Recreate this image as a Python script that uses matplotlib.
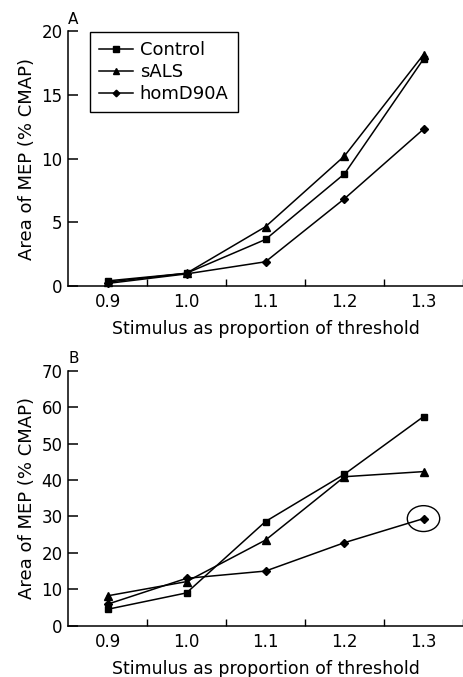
import matplotlib
matplotlib.use("Agg")
import matplotlib.pyplot as plt
from matplotlib.patches import Ellipse

x = [0.9, 1.0, 1.1, 1.2, 1.3]
x_ticks = [0.9, 1.0, 1.1, 1.2, 1.3]
x_minor = [0.95, 1.05, 1.15, 1.25, 1.35]

# panel A
a_control = [0.4, 1.0, 3.65, 8.8, 17.8]
a_sals = [0.3, 1.0, 4.65, 10.2, 18.15]
a_hom = [0.2, 0.95, 1.9, 6.85, 12.3]

# panel B
b_control = [4.5, 9.0, 28.6, 41.6, 57.4]
b_sals = [8.2, 12.1, 23.5, 40.9, 42.3]
b_hom = [5.9, 13.0, 15.0, 22.8, 29.4]

plt.rcParams["font.family"] = "DejaVu Sans"

W, H = 463, 677
fig = plt.figure(figsize=(W / 100, H / 100), dpi=100)


def make_ax(top_px, bottom_px):
    ax = fig.add_axes([68 / W, 1 - bottom_px / H, (W - 68) / W, (bottom_px - top_px) / H])
    for s in ["top", "right"]:
        ax.spines[s].set_visible(False)
    for s in ["left", "bottom"]:
        ax.spines[s].set_linewidth(1.1)
    ax.set_xlim(0.85, 1.35)
    ax.set_xticks(x_ticks)
    ax.set_xticks(x_minor, minor=True)
    ax.tick_params(axis="x", which="major", length=0, labelsize=12, pad=5)
    ax.tick_params(axis="x", which="minor", direction="in", length=5, width=1)
    ax.tick_params(axis="y", direction="in", length=7, width=1.1, labelsize=12, pad=4)
    ax.set_xticklabels([f"{v:.1f}" for v in x_ticks])
    ax.set_xlabel("Stimulus as proportion of threshold", fontsize=12.5, labelpad=6.5)
    ax.set_ylabel("Area of MEP (% CMAP)", fontsize=13, labelpad=4)
    return ax


def draw(ax, control, sals, hom):
    ax.plot(x, control, color="black", lw=1.1, marker="s", ms=5, label="Control", clip_on=False)
    ax.plot(x, sals, color="black", lw=1.1, marker="^", ms=6, label="sALS", clip_on=False)
    ax.plot(x, hom, color="black", lw=1.1, marker="D", ms=4.2, label="homD90A", clip_on=False)


ax1 = make_ax(31, 286)
draw(ax1, a_control, a_sals, a_hom)
ax1.set_ylim(0, 20)
ax1.set_yticks([0, 5, 10, 15, 20])
leg = ax1.legend(loc="upper left", bbox_to_anchor=((90 - 68) / 395, 0.996), borderaxespad=0,
                 fontsize=13, handlelength=1.9, handletextpad=0.35, labelspacing=0.22,
                 borderpad=0.5, fancybox=False, framealpha=1, markerscale=0.8)
leg.get_frame().set_edgecolor("black")
leg.get_frame().set_linewidth(1.0)

ax2 = make_ax(370.7, 625.7)
draw(ax2, b_control, b_sals, b_hom)
ax2.set_ylim(0, 70)
ax2.set_yticks([0, 10, 20, 30, 40, 50, 60, 70])
ax2.add_patch(Ellipse((x[-1], b_hom[-1]), width=0.041, height=7.1, fill=False,
                      edgecolor="black", lw=1.0, clip_on=False))

fig.text(68 / W, 1 - 23.5 / H, "A", fontsize=11, ha="left", va="baseline")
fig.text(69 / W, 1 - 363 / H, "B", fontsize=11, ha="left", va="baseline")

fig.savefig("out.png", dpi=100)
